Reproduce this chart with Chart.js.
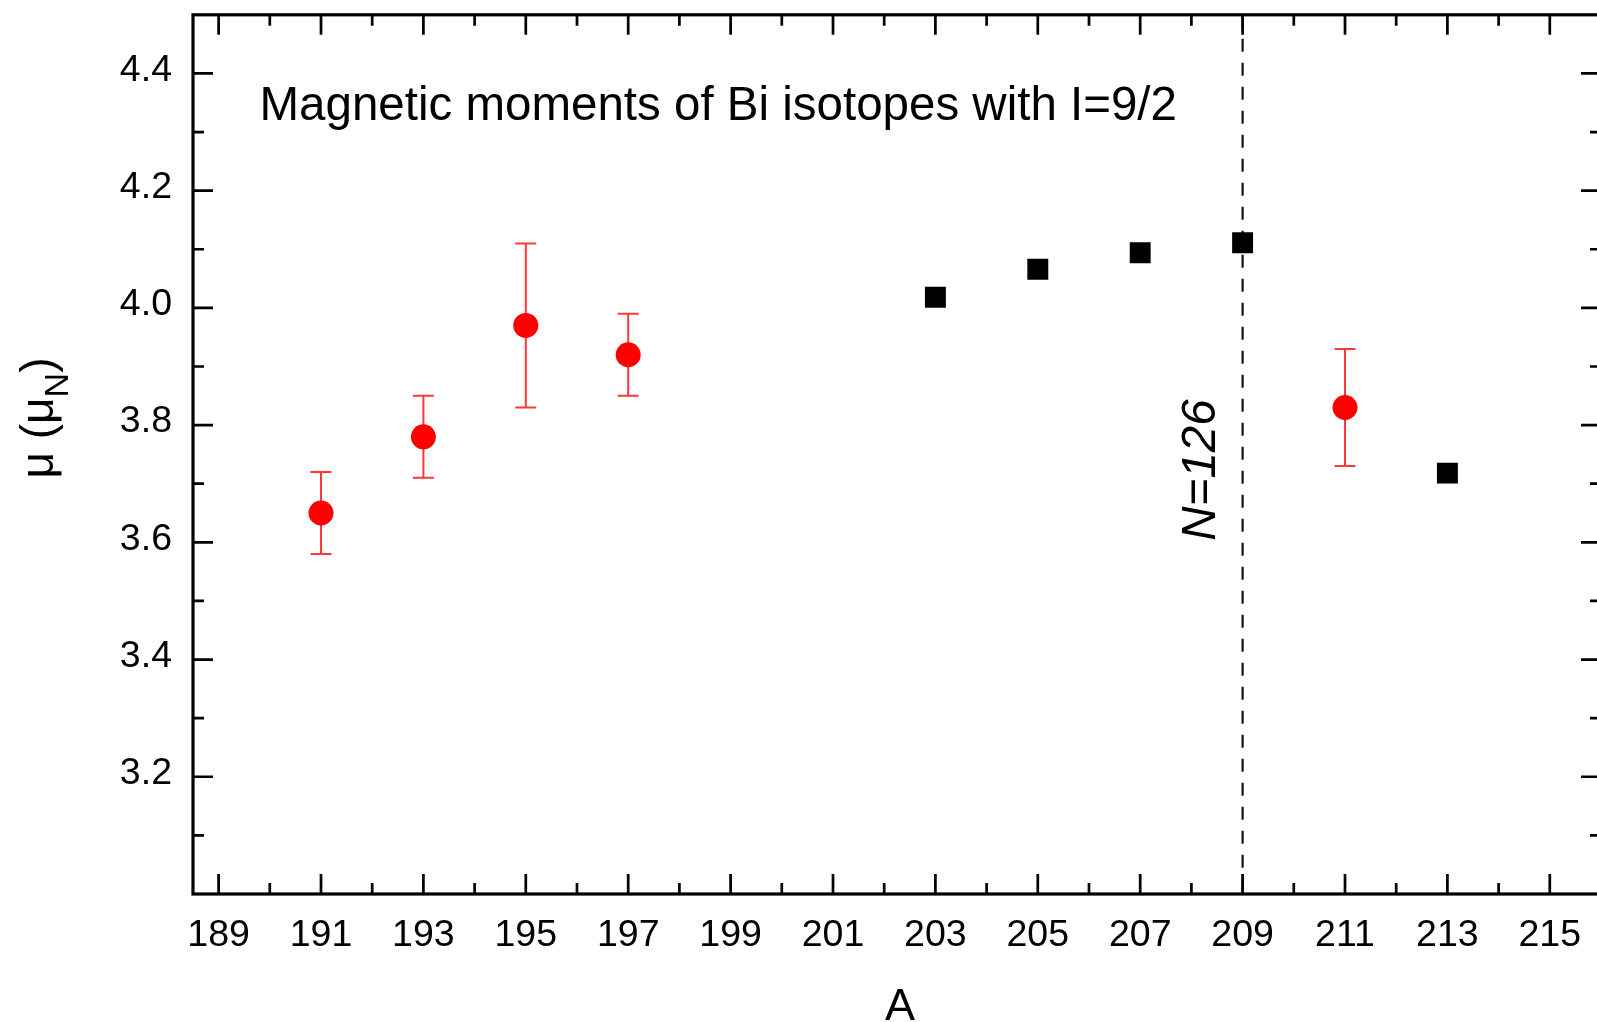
<!DOCTYPE html>
<html><head><meta charset="utf-8">
<script src="https://cdn.jsdelivr.net/npm/chart.js@4.4.1/dist/chart.umd.min.js"></script>
<style>html,body{margin:0;padding:0;overflow:hidden;background:#fff}canvas{display:block}</style>
</head><body>
<canvas id="c" width="1620" height="1022"></canvas>
<script>
// ---- data ----
const massNumbersRed = [191, 193, 195, 197, 211];
const momentsRed = [3.65, 3.78, 3.97, 3.92, 3.83];
const errorsRed = [0.07, 0.07, 0.14, 0.07, 0.10];
const massNumbersBlack = [203, 205, 207, 209, 213];
const momentsBlack = [4.018, 4.066, 4.094, 4.111, 3.718];
const xTickLabels = [189, 191, 193, 195, 197, 199, 201, 203, 205, 207, 209, 211, 213, 215];
const yTickLabels = [3.2, 3.4, 3.6, 3.8, 4.0, 4.2, 4.4];
const xRange = [188.5, 216];
const yRange = [3.0, 4.5];
const shellClosureA = 209;
const shellLabel = 'N=126';
const titleText = 'Magnetic moments of Bi isotopes with I=9/2';
const xTitle = 'A';

const FONT = '"Liberation Sans", Arial, Helvetica, sans-serif';

const decorPlugin = {
  id: 'decor',
  beforeDatasetsDraw(chart) {
    const {ctx, chartArea: a, scales: {x, y}} = chart;
    ctx.save();
    const xp = x.getPixelForValue(shellClosureA);
    ctx.strokeStyle = '#111';
    ctx.lineWidth = 2.2;
    ctx.setLineDash([13, 11]);
    ctx.beginPath(); ctx.moveTo(xp, a.top); ctx.lineTo(xp, a.bottom); ctx.stroke();
    ctx.setLineDash([]);
    ctx.strokeStyle = 'rgba(255,0,0,0.78)';
    ctx.lineWidth = 2;
    massNumbersRed.forEach((m, i) => {
      const px = x.getPixelForValue(m);
      const t = y.getPixelForValue(momentsRed[i] + errorsRed[i]);
      const b = y.getPixelForValue(momentsRed[i] - errorsRed[i]);
      ctx.beginPath();
      ctx.moveTo(px, t); ctx.lineTo(px, b);
      ctx.moveTo(px - 10.5, t); ctx.lineTo(px + 10.5, t);
      ctx.moveTo(px - 10.5, b); ctx.lineTo(px + 10.5, b);
      ctx.stroke();
    });
    ctx.restore();
  },
  afterDraw(chart) {
    const {ctx, chartArea: a, scales: {x, y}} = chart;
    ctx.save();
    // frame
    ctx.strokeStyle = '#000';
    ctx.lineWidth = 3.2;
    ctx.strokeRect(a.left, a.top, a.right - a.left, a.bottom - a.top);
    // ticks
    ctx.lineWidth = 2.7;
    const MAJ = 20, MIN = 11;
    const xMinor = [];
    for (let i = 0; i < xTickLabels.length - 1; i++) xMinor.push((xTickLabels[i] + xTickLabels[i + 1]) / 2);
    const yMinor = [];
    for (let i = 0; i < yTickLabels.length - 1; i++) yMinor.push((yTickLabels[i] + yTickLabels[i + 1]) / 2);
    yMinor.unshift(yTickLabels[0] - 0.1); yMinor.push(yTickLabels[yTickLabels.length - 1] + 0.1);
    ctx.beginPath();
    const xt = (v, len) => {
      const p = x.getPixelForValue(v);
      if (p <= a.left + 1 || p >= a.right - 1) return;
      ctx.moveTo(p, a.bottom); ctx.lineTo(p, a.bottom - len);
      ctx.moveTo(p, a.top); ctx.lineTo(p, a.top + len);
    };
    const yt = (v, len) => {
      const p = y.getPixelForValue(v);
      if (p <= a.top + 1 || p >= a.bottom - 1) return;
      ctx.moveTo(a.left, p); ctx.lineTo(a.left + len, p);
      ctx.moveTo(a.right, p); ctx.lineTo(a.right - len, p);
    };
    xTickLabels.forEach(v => xt(v, MAJ));
    xMinor.forEach(v => xt(v, MIN));
    yTickLabels.forEach(v => yt(v, MAJ));
    yMinor.forEach(v => yt(v, MIN));
    ctx.stroke();

    ctx.fillStyle = '#000';
    // title
    ctx.font = '47.5px ' + FONT;
    ctx.textAlign = 'left';
    ctx.textBaseline = 'alphabetic';
    ctx.fillText(titleText, 259.5, 120);
    // x title
    ctx.font = '45px ' + FONT;
    ctx.textAlign = 'center';
    ctx.fillText(xTitle, 900, 1020);
    // y title with subscript
    ctx.save();
    ctx.translate(53, 418);
    ctx.rotate(-Math.PI / 2);
    const big = '46px ' + FONT, small = '34px ' + FONT;
    const parts = [['\u03BC (\u03BC', big, 0], ['N', small, 15], [')', big, 0]];
    let total = 0;
    parts.forEach(p => { ctx.font = p[1]; total += ctx.measureText(p[0]).width; });
    let cx = -total / 2;
    ctx.textAlign = 'left';
    parts.forEach(p => { ctx.font = p[1]; ctx.fillText(p[0], cx, p[2]); cx += ctx.measureText(p[0]).width; });
    ctx.restore();
    // N=126 label
    ctx.save();
    ctx.translate(1215, 470);
    ctx.rotate(-Math.PI / 2);
    ctx.font = 'italic 47.5px ' + FONT;
    ctx.textAlign = 'center';
    ctx.fillText(shellLabel, 0, 0);
    ctx.restore();
    ctx.restore();
  }
};

new Chart(document.getElementById('c'), {
  type: 'scatter',
  data: {
    datasets: [
      {
        label: 'measured',
        data: massNumbersRed.map((m, i) => ({x: m, y: momentsRed[i]})),
        pointStyle: 'circle',
        pointRadius: 12.5,
        pointBorderWidth: 0,
        backgroundColor: '#ff0000',
        borderColor: '#ff0000'
      },
      {
        label: 'literature',
        data: massNumbersBlack.map((m, i) => ({x: m, y: momentsBlack[i]})),
        pointStyle: 'rect',
        pointRadius: 14.8,
        pointBorderWidth: 0,
        backgroundColor: '#000000',
        borderColor: '#000000'
      }
    ]
  },
  options: {
    responsive: false,
    animation: false,
    events: [],
    layout: {padding: {left: 0, top: 12, right: 19, bottom: 0}},
    plugins: {legend: {display: false}, tooltip: {enabled: false}},
    scales: {
      x: {
        type: 'linear',
        min: xRange[0], max: xRange[1],
        afterBuildTicks: s => { s.ticks = xTickLabels.map(v => ({value: v})); },
        afterFit: s => { s.height = 1022 - 894; s.paddingLeft = 0; s.paddingRight = 0; },
        grid: {display: false},
        border: {display: false},
        ticks: {
          color: '#000', padding: 11, maxRotation: 0, autoSkip: false,
          font: {family: FONT, size: 37.5},
          callback: v => String(v)
        }
      },
      y: {
        type: 'linear',
        min: yRange[0], max: yRange[1],
        afterBuildTicks: s => { s.ticks = yTickLabels.map(v => ({value: v})); },
        afterFit: s => { s.width = 193; s.paddingTop = 0; s.paddingBottom = 0; },
        grid: {display: false},
        border: {display: false},
        ticks: {
          color: '#000', padding: 13, labelOffset: -3,
          font: {family: FONT, size: 37.5},
          callback: v => Number(v).toFixed(1)
        }
      }
    }
  },
  plugins: [decorPlugin]
});
</script>
</body></html>
